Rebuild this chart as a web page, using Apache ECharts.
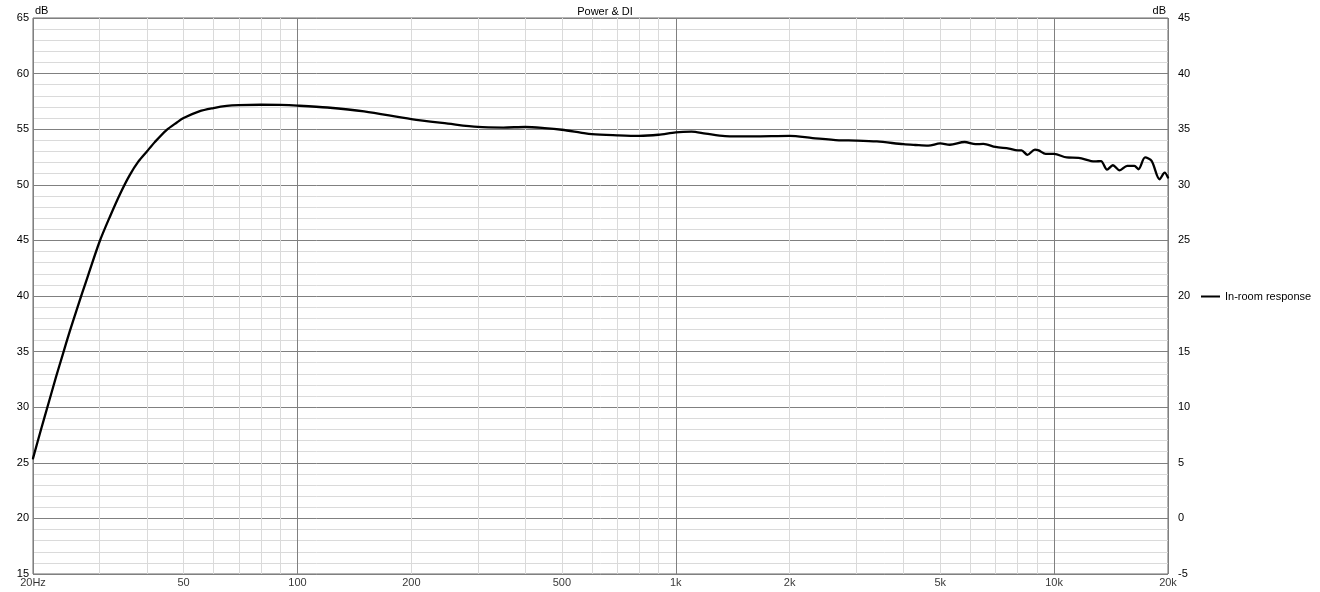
<!DOCTYPE html>
<html>
<head>
<meta charset="utf-8">
<script src="https://cdn.jsdelivr.net/npm/echarts@6/dist/echarts.min.js"></script>
<style>
html,body{margin:0;padding:0;background:#fff;}
#chart{width:1320px;height:592px;}
</style>
</head>
<body>
<div id="chart"></div>
<script>
const freqs = [20,21,22,23,24,25,26,27,28,30,32,34,36,38,40,42,45,48,50,55,60,65,70,80,90,100,120,150,200,250,300,350,400,450,500,560,600,700,800,900,1000,1100,1200,1350,1600,2000,2300,2700,3000,3400,4000,4300,4650,5000,5300,5800,6200,6500,7000,7600,8000,8200,8500,8900,9100,9500,10000,10800,11600,12800,13300,13800,14300,14900,15600,16300,16700,17400,18100,19000,19600,20000];
const inRoom = [25.4,28.0,30.4,32.7,34.8,36.8,38.6,40.3,41.9,44.9,47.2,49.2,50.85,52.1,53.0,53.85,54.9,55.6,56.0,56.6,56.9,57.1,57.17,57.2,57.18,57.12,56.95,56.6,55.9,55.5,55.2,55.15,55.2,55.1,54.95,54.7,54.55,54.45,54.4,54.5,54.72,54.78,54.6,54.38,54.35,54.4,54.2,54.0,53.98,53.9,53.65,53.58,53.52,53.72,53.6,53.85,53.65,53.68,53.4,53.26,53.1,53.1,52.7,53.17,53.1,52.78,52.78,52.46,52.43,52.1,52.13,51.36,51.76,51.3,51.7,51.7,51.4,52.46,52.15,50.5,51.1,50.65];
const xTickValues = [20,50,100,200,500,1000,2000,5000,10000,20000];
const xTickLabels = ['20Hz','50','100','200','500','1k','2k','5k','10k','20k'];
const xMinorGrid = [30,40,50,60,70,80,90,200,300,400,500,600,700,800,900,2000,3000,4000,5000,6000,7000,8000,9000];
const seriesName = 'In-room response';
const titleText = 'Power & DI';

const FONT = 'Liberation Sans';
const chart = echarts.init(document.getElementById('chart'), null, {renderer:'canvas'});
chart.setOption({
  animation:false,
  backgroundColor:'#fff',
  title:{text:titleText,left:600,textAlign:'center',top:1,textStyle:{fontFamily:FONT,fontSize:11,fontWeight:'normal',color:'#000'}},
  legend:{data:[{name:seriesName,icon:'rect'}],orient:'vertical',left:1196,top:286,itemWidth:19,itemHeight:2,itemGap:5,
    textStyle:{fontFamily:FONT,fontSize:11,color:'#000',padding:[0,0,0,0]},selectedMode:false},
  grid:{left:33,right:152,top:18,bottom:18,show:true,borderColor:'#6a6a6a',borderWidth:1,backgroundColor:'transparent'},
  xAxis:{type:'log',logBase:10,min:20,max:20000,axisLine:{show:false},axisTick:{show:false},axisLabel:{show:false},
    splitLine:{show:true,lineStyle:{color:'#808080',width:1}}},
  yAxis:[
    {type:'value',min:15,max:65,interval:5,name:'dB',nameLocation:'end',nameGap:2,
      nameTextStyle:{fontFamily:FONT,fontSize:11,color:'#000',align:'left',verticalAlign:'bottom',padding:[0,0,0,2]},
      axisLine:{show:false},axisTick:{show:false},
      axisLabel:{fontFamily:FONT,fontSize:11,color:'#000',margin:4},
      splitLine:{show:true,lineStyle:{color:'#808080',width:1}},
      minorTick:{show:false,splitNumber:5},
      minorSplitLine:{show:true,lineStyle:{color:'#dadada',width:1}}},
    {type:'value',min:-5,max:45,interval:5,name:'dB',nameLocation:'end',nameGap:2,position:'right',
      nameTextStyle:{fontFamily:FONT,fontSize:11,color:'#000',align:'right',verticalAlign:'bottom',padding:[0,2,0,0]},
      axisLine:{show:false},axisTick:{show:false},
      axisLabel:{fontFamily:FONT,fontSize:11,color:'#000',margin:10,align:'left'},
      splitLine:{show:false}}
  ],
  series:[
    {name:'grid',type:'line',data:[[20,15]],symbol:'none',lineStyle:{opacity:0},silent:true,z:1,
      markLine:{silent:true,symbol:['none','none'],label:{show:false},animation:false,
        lineStyle:{color:'#dadada',width:1,type:'solid'},
        data:xMinorGrid.map(v=>({xAxis:v}))}},
    {name:'ticks',type:'scatter',data:xTickValues.map((v,i)=>[v,15,xTickLabels[i]]),symbolSize:0,silent:true,clip:false,z:2,
      label:{show:true,position:'bottom',distance:3,fontFamily:FONT,fontSize:11,color:'#000',formatter:p=>p.data[2]}},
    {name:seriesName,type:'line',data:freqs.map((f,i)=>[f,inRoom[i]]),symbol:'none',smooth:0.3,z:5,
      lineStyle:{color:'#000',width:2.3,join:'round',cap:'round'},itemStyle:{color:'#000'}}
  ]
});
</script>
</body>
</html>
